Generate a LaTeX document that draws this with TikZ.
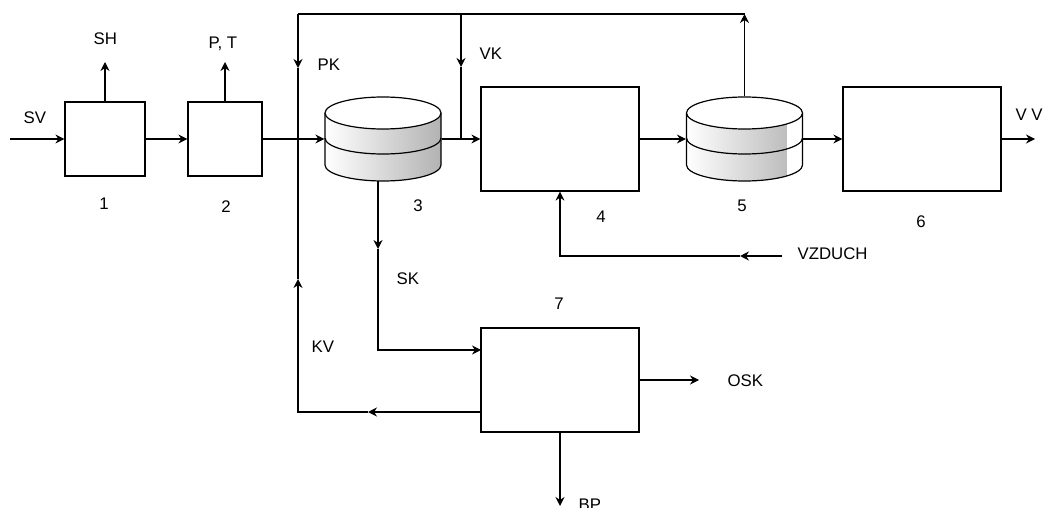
\documentclass[tikz,border=0pt]{standalone}
\usepackage{fontspec}
\setmainfont{Liberation Sans}
\usetikzlibrary{arrows.meta}
\newcommand\drumshape[2]{%
\begin{scope}[shift={(#1,139)}]
  \begin{scope}
    \clip (-58,-26) -- (-58,26) .. controls (-58,34.84) and (-32,42) .. (0,42)
          .. controls (32,42) and (58,34.84) .. (58,26) -- (58,-26) -- cycle;
    \shade[left color=white,right color=gray!60] (-58,-30) rectangle (58,45);
    #2
  \end{scope}
  \draw (-58,-26) -- (-58,26) .. controls (-58,34.84) and (-32,42) .. (0,42)
        .. controls (32,42) and (58,34.84) .. (58,26) -- (58,-26);
  \draw (-58,-1) .. controls (-58,7.84) and (-32,15) .. (0,15)
        .. controls (32,15) and (58,7.84) .. (58,-1);
  \filldraw[fill=white] (0,-26) ellipse [x radius=58pt, y radius=16pt];
\end{scope}}
\begin{document}
\begin{tikzpicture}[x=1pt,y=-1pt,line width=1.2pt,
  box/.style={draw,fill=white,inner sep=0pt},
  cyl/.style={inner sep=0pt,minimum width=116pt,minimum height=84pt},
  lbl/.style={inner sep=0pt,font=\fontsize{16.8}{19}\selectfont},
  arr/.style={-{Stealth[length=9pt,width=9pt,inset=3pt]}}]
\useasboundingbox (0,0) rectangle (1046,508);
% boxes
\node[box,minimum width=80pt,minimum height=74pt] (b1) at (105,139) {};
\node[box,minimum width=74pt,minimum height=74pt] (b2) at (225,139) {};
\node[box,minimum width=158pt,minimum height=104pt] (b4) at (560,139) {};
\node[box,minimum width=158pt,minimum height=104pt] (b6) at (922,139) {};
\node[box,minimum width=158pt,minimum height=104pt] (b7) at (560,380) {};
% drums
\drumshape{383}{}
\drumshape{744.5}{\fill[white] (42.5,-30) rectangle (58,45);}
\node[cyl] (c3) at (383,139) {};
\node[cyl] (c5) at (744.5,139) {};
% coordinates
\coordinate (sv) at (10,139);
\coordinate (sh) at (105,62);
\coordinate (pt) at (225,62);
\coordinate (j1) at (298,139);
\coordinate (tl) at (298,14);
\coordinate (pka) at (298,68);
\coordinate (vkt) at (461,14);
\coordinate (vka) at (461,67);
\coordinate (vkb) at (461,139);
\coordinate (tr) at (744.5,14);
\coordinate (vv) at (1035,139);
\coordinate (vz0) at (782,256);
\coordinate (vza) at (740,256);
\coordinate (vz1) at (560,256);
\coordinate (c3b) at (378,181);
\coordinate (ska) at (378,249);
\coordinate (skc) at (378,350);
\coordinate (b7in) at (481,350);
\coordinate (kv0) at (481,412);
\coordinate (kva) at (368,412);
\coordinate (kvc) at (298,412);
\coordinate (kvb) at (298,279);
\coordinate (osk) at (699,380);
\coordinate (bp) at (560,506);
% connectors
\draw[arr] (sv) -- (b1.west);
\draw[arr] (b1.north) -- (sh);
\draw[arr] (b1.east) -- (b2.west);
\draw[arr] (b2.north) -- (pt);
\draw[arr] (b2.east) -- (c3.west);
\draw[arr] (c3.east) -- (b4.west);
\draw[arr] (b4.east) -- (c5.west);
\draw[arr] (c5.east) -- (b6.west);
\draw[arr] (b6.east) -- (vv);
\draw[arr] (c5.north) -- (tr);
\draw (tr) -- (tl);
\draw[arr] (tl) -- (pka);
\draw (pka) -- (j1);
\draw[arr] (vkt) -- (vka);
\draw (vka) -- (vkb);
\draw[arr] (vz0) -- (vza);
\draw[arr] (vza) -- (vz1) -- (b4.south);
\draw[arr] (c3b) -- (ska);
\draw[arr] (ska) -- (skc) -- (b7in);
\draw[arr] (kv0) -- (kva);
\draw[arr] (kva) -- (kvc) -- (kvb);
\draw (kvb) -- (j1);
\draw[arr] (b7.east |- osk) -- (osk);
\draw[arr] (b7.south) -- (bp);
% labels
\node[lbl,anchor=west] (tsv) at (23,118) {SV};
\node[lbl,anchor=west] (tsh) at (93,39) {SH};
\node[lbl,anchor=west] (tpt) at (208,44) {P, T};
\node[lbl] (t1) at (104,204) {1};
\node[lbl] (t2) at (226,207) {2};
\node[lbl,anchor=west] (tpk) at (317,65) {PK};
\node[lbl,anchor=west] (tvk) at (479,54) {VK};
\node[lbl] (t3) at (418,206) {3};
\node[lbl] (t4) at (601,217) {4};
\node[lbl] (t5) at (742,206) {5};
\node[lbl] (t6) at (921,222) {6};
\node[lbl] (t7) at (559,304) {7};
\node[lbl,anchor=west] (tvv) at (1015,115) {V V};
\node[lbl,anchor=west] (tvz) at (797,254) {VZDUCH};
\node[lbl,anchor=west] (tsk) at (396,279) {SK};
\node[lbl,anchor=west] (tkv) at (311,347) {KV};
\node[lbl,anchor=west] (tosk) at (727,381) {OSK};
\node[lbl,anchor=west] (tbp) at (578,505) {BP};
\end{tikzpicture}
\end{document}
